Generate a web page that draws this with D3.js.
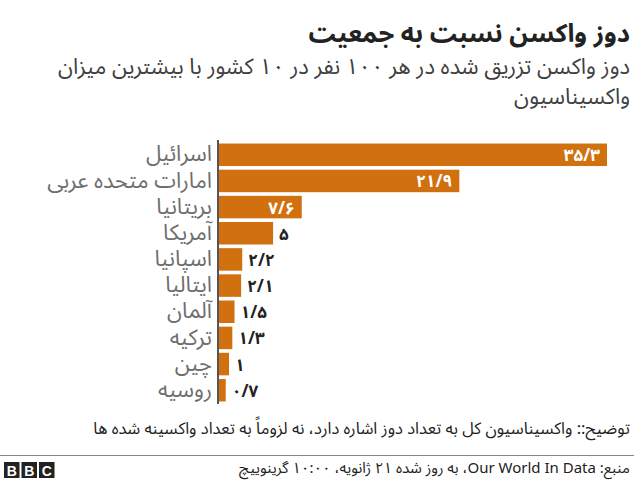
<!DOCTYPE html>
<html>
<head>
<meta charset="utf-8">
<script src="https://cdn.jsdelivr.net/npm/d3@7"></script>
<style>
  body { margin: 0; background: #fff; }
  text { font-family: "Noto Sans Arabic", "DejaVu Sans", sans-serif; }
</style>
</head>
<body>
<div id="chart"></div>
<script>
// data
var countries = ["اسرائیل", "امارات متحده عربی", "بریتانیا", "آمریکا", "اسپانیا", "ایتالیا", "آلمان", "ترکیه", "چین", "روسیه"];
var doses = [35.3, 21.9, 7.6, 5, 2.2, 2.1, 1.5, 1.3, 1, 0.7];

var title = "دوز واکسن نسبت به جمعیت";
var subtitle = ["دوز واکسن تزریق شده در هر ۱۰۰ نفر در ۱۰ کشور با بیشترین میزان", "واکسیناسیون"];
var note = "توضیح:: واکسیناسیون کل به تعداد دوز اشاره دارد، نه لزوماً به تعداد واکسینه شده ها";
var source = "منبع: Our World In Data، به روز شده ۲۱ ژانویه، ۱۰:۰۰ گرینوییچ";

var width = 640, height = 483;
var right = 630;

var svg = d3.select("#chart").append("svg")
    .attr("width", width)
    .attr("height", height);

// persian digits, "/" as decimal mark
function fa(v) {
    var digits = "۰۱۲۳۴۵۶۷۸۹";
    return String(v).replace(/\d/g, function(c) { return digits[+c]; }).replace(".", "/");
}

// titles
svg.append("text")
    .attr("x", right).attr("y", 42)
    .style("direction", "rtl")
    .attr("text-anchor", "start")
    .style("font-size", "25.5px").style("font-weight", "bold")
    .style("fill", "#222")
    .text(title);

svg.selectAll(".sub")
    .data(subtitle)
    .enter().append("text")
    .attr("class", "sub")
    .attr("x", right)
    .attr("y", function(d, i) { return 74 + i * 30; })
    .style("direction", "rtl")
    .attr("text-anchor", "start")
    .style("font-size", "22px")
    .style("fill", "#404040")
    .text(function(d) { return d; });

// scales
var x = d3.scaleLinear().domain([0, 35.3]).range([218, 607]);
var y = d3.scaleBand().domain(countries).range([143, 402]).paddingInner(0.14).paddingOuter(0.02);

var rows = svg.selectAll(".row")
    .data(countries.map(function(c, i) { return {name: c, value: doses[i]}; }))
    .enter().append("g")
    .attr("class", "row");

rows.append("rect")
    .attr("x", x(0))
    .attr("y", function(d) { return y(d.name); })
    .attr("width", function(d) { return x(d.value) - x(0); })
    .attr("height", y.bandwidth())
    .style("fill", "#d1700e");

rows.append("text")
    .attr("x", 212)
    .attr("y", function(d) { return y(d.name) + y.bandwidth() / 2; })
    .attr("dy", "0.3em")
    .attr("text-anchor", "end")
    .style("font-size", "22px")
    .style("fill", "#6e6e6e")
    .text(function(d) { return d.name; });

// value labels: inside for long bars, outside for short ones
rows.append("text")
    .attr("x", function(d) { return d.value > 6 ? x(d.value) - 7 : x(d.value) + 6; })
    .attr("y", function(d) { return y(d.name) + y.bandwidth() / 2; })
    .attr("dy", "0.38em")
    .attr("text-anchor", function(d) { return d.value > 6 ? "end" : "start"; })
    .style("font-size", "17px").style("font-weight", "bold")
    .style("fill", function(d) { return d.value > 6 ? "#fff" : "#222"; })
    .text(function(d) { return fa(d.value); });

// axis line
svg.append("line")
    .attr("x1", x(0)).attr("x2", x(0))
    .attr("y1", 140).attr("y2", 404)
    .style("stroke", "#555").style("stroke-width", 2);

// note
svg.append("text")
    .attr("x", right).attr("y", 434)
    .style("direction", "rtl")
    .attr("text-anchor", "start")
    .style("font-size", "16.5px")
    .style("fill", "#222")
    .text(note);

svg.append("line")
    .attr("x1", 0).attr("x2", 634)
    .attr("y1", 455.5).attr("y2", 455.5)
    .style("stroke", "#888").style("stroke-width", 1);

svg.append("text")
    .attr("x", right).attr("y", 473)
    .style("direction", "rtl")
    .attr("text-anchor", "start")
    .style("font-size", "15px")
    .style("fill", "#222")
    .text(source);

// BBC blocks
var logo = svg.append("g").attr("transform", "translate(4,462)");
logo.selectAll("rect")
    .data(["B", "B", "C"])
    .enter().append("rect")
    .attr("x", function(d, i) { return i * 17.5; })
    .attr("width", 15.5).attr("height", 16)
    .style("fill", "#222");
logo.selectAll("text")
    .data(["B", "B", "C"])
    .enter().append("text")
    .attr("x", function(d, i) { return i * 17.5 + 7.75; })
    .attr("y", 13.5)
    .attr("text-anchor", "middle")
    .style("font-family", "Liberation Sans, Arial, sans-serif")
    .style("font-weight", "bold").style("font-size", "14px")
    .style("fill", "#fff")
    .text(function(d) { return d; });
</script>
</body>
</html>
